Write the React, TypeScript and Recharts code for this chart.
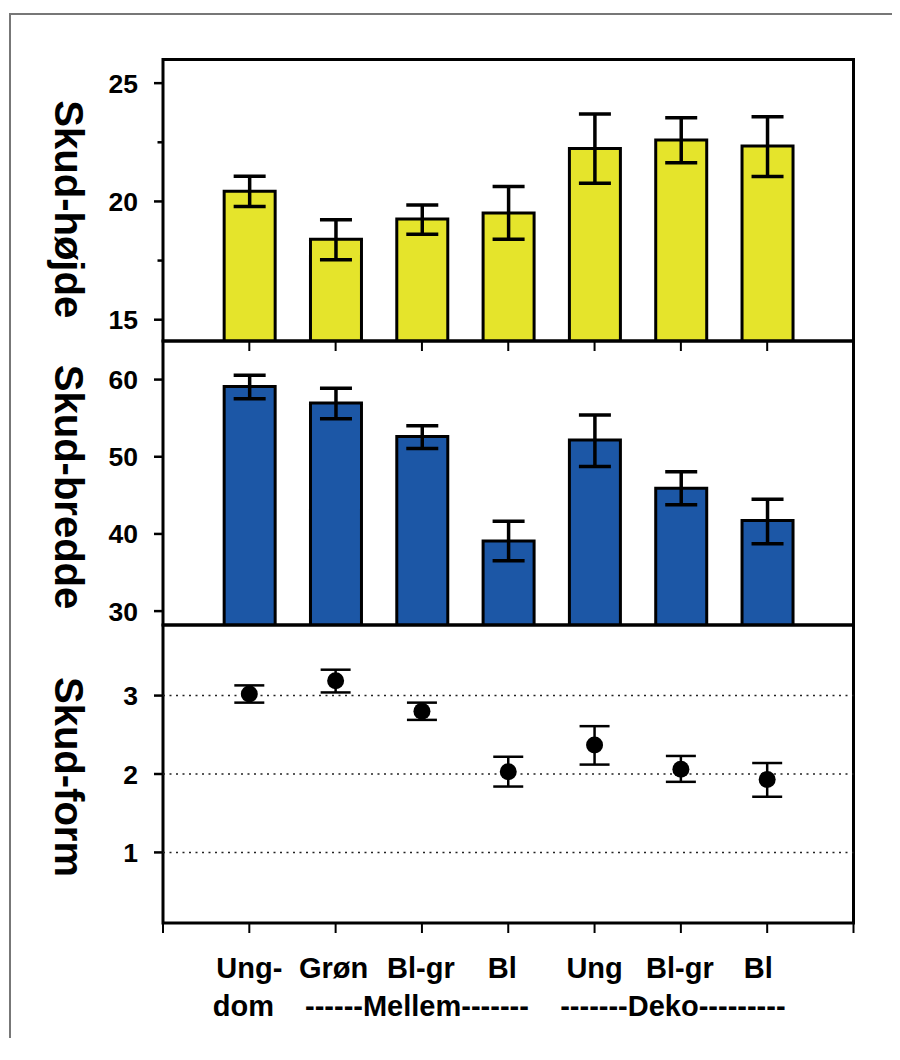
import React from 'react';
import {
  ComposedChart,
  Bar,
  Scatter,
  XAxis,
  YAxis,
  ErrorBar,
  ReferenceArea,
  ReferenceLine,
} from 'recharts';

const FONT = "'Liberation Sans', Arial, Helvetica, sans-serif";

// categories on the x axis (first line) and the second text line below them
const categories = ['Ung-', 'Grøn', 'Bl-gr', 'Bl', 'Ung', 'Bl-gr', 'Bl'];
const subLabels = ['dom', '', '------Mellem-------', '', '', '-------Deko---------', ''];
const positions = [1, 2, 3, 4, 5, 6, 7];
const xTicksAll = [0, 1, 2, 3, 4, 5, 6, 7, 8];

// Skud-højde (mean, lower and upper end of error bar)
const heightMean = [20.43, 18.4, 19.26, 19.51, 22.24, 22.6, 22.34];
const heightLow = [19.79, 17.54, 18.61, 18.4, 20.77, 21.64, 21.05];
const heightHigh = [21.06, 19.23, 19.85, 20.63, 23.7, 23.54, 23.58];

// Skud-bredde
const widthMean = [59.09, 56.97, 52.64, 39.09, 52.16, 45.93, 41.73];
const widthLow = [57.53, 54.94, 51.08, 36.54, 48.74, 43.77, 38.74];
const widthHigh = [60.56, 58.88, 54.03, 41.64, 55.41, 48.05, 44.5];

// Skud-form
const formMean = [3.02, 3.19, 2.8, 2.03, 2.37, 2.06, 1.93];
const formLow = [2.91, 3.04, 2.69, 1.84, 2.12, 1.9, 1.71];
const formHigh = [3.13, 3.33, 2.91, 2.22, 2.61, 2.23, 2.14];

// y ticks
const heightTicks = [15, 17.5, 20, 22.5, 25];
const heightLabelled = [15, 20, 25];
const widthTicks = [30, 40, 50, 60];
const formTicks = [1, 2, 3];

const heightDomain = [14.1, 26];
const widthDomain = [28.2, 65];
const formDomain = [0.1, 3.9];

// small horizontal nudges of the category texts (px), like the original's spacing
const line1Shift = [0, -2, -1, -6, 0, -1, -9];
const line2Shift = [-6, 0, -5, 0, 0, -8, 0];

const makeRows = (mean: number[], low: number[], high: number[]) =>
  positions.map((pos, i) => ({
    pos,
    mean: mean[i],
    err: [mean[i] - low[i], high[i] - mean[i]],
  }));

const heightRows = makeRows(heightMean, heightLow, heightHigh);
const widthRows = makeRows(widthMean, widthLow, widthHigh);
const formRows = makeRows(formMean, formLow, formHigh);

const Y_TICK_SIZE = 9;
const Y_TICK_MARGIN = 16;
const CHART_W = 884;
const Y_AXIS_W = 155;
const MARGIN_RIGHT = 38.5;

const makeYTick = (labelled: number[]) => (props: any) => {
  const { x, y, payload } = props;
  const axisX = x + Y_TICK_SIZE + Y_TICK_MARGIN;
  const major = labelled.includes(payload.value);
  return (
    <g>
      <line
        x1={axisX - (major ? Y_TICK_SIZE : 5.5)}
        x2={axisX}
        y1={y}
        y2={y}
        stroke="#000"
        strokeWidth={2.5}
      />
      {major && (
        <text
          x={x}
          y={y}
          dy="0.36em"
          textAnchor="end"
          fontFamily={FONT}
          fontWeight="bold"
          fontSize={26.5}
          fill="#000"
        >
          {payload.value}
        </text>
      )}
    </g>
  );
};

const CategoryTick = (props: any) => {
  const { x, y, payload } = props;
  const i = payload.value - 1;
  if (i < 0 || i >= categories.length) return <g />;
  const style = { fontFamily: FONT, fontWeight: 'bold' as const, fontSize: 29, fill: '#000' };
  return (
    <g>
      <text x={x + line1Shift[i]} y={y + 43} textAnchor="middle" {...style}>
        {categories[i]}
      </text>
      {subLabels[i] && (
        <text x={x + line2Shift[i]} y={y + 81} textAnchor="middle" {...style}>
          {subLabels[i]}
        </text>
      )}
    </g>
  );
};

const yLabel = (value: string, dy = 0) => ({
  value,
  angle: 90,
  position: 'center' as const,
  dx: -16.5,
  dy,
  fill: '#000',
  fontSize: 40,
  fontWeight: 'bold',
  fontFamily: FONT,
});

const frame = (domain: number[]) => (
  <ReferenceArea
    x1={0}
    x2={8}
    y1={domain[0]}
    y2={domain[1]}
    fill="none"
    stroke="#000"
    strokeWidth={3}
    ifOverflow="visible"
  />
);

export default function App() {
  return (
    <div style={{ position: 'relative', width: CHART_W, height: 1030 }}>
      <div
        style={{
          position: 'absolute',
          left: 1,
          top: 5,
          width: 890,
          height: 1045,
          borderTop: '2px solid #777',
          borderLeft: '2px solid #777',
          boxSizing: 'border-box',
        }}
      />

      {/* Skud-højde */}
      <div style={{ position: 'absolute', left: 0, top: 0 }}>
        <ComposedChart
          width={CHART_W}
          height={345}
          data={heightRows}
          margin={{ top: 51.5, right: MARGIN_RIGHT, bottom: 0, left: 0 }}
        >
          <XAxis
            type="number"
            dataKey="pos"
            domain={[0, 8]}
            ticks={positions}
            interval={0}
            height={12}
            axisLine={false}
            tickSize={10}
            tickLine={{ stroke: '#000', strokeWidth: 2 }}
            tickFormatter={() => ''}
          />
          <YAxis
            type="number"
            domain={heightDomain}
            allowDataOverflow
            ticks={heightTicks}
            interval={0}
            width={Y_AXIS_W}
            axisLine={false}
            tickLine={false}
            tickSize={Y_TICK_SIZE}
            tickMargin={Y_TICK_MARGIN}
            tick={makeYTick(heightLabelled)}
            label={yLabel('Skud-højde', 9)}
          />
          {frame(heightDomain)}
          <Bar
            dataKey="mean"
            fill="#e5e42b"
            stroke="#000"
            strokeWidth={3}
            barSize={51}
            isAnimationActive={false}
          >
            <ErrorBar dataKey="err" direction="y" width={16} stroke="#000" strokeWidth={3.5} />
          </Bar>
        </ComposedChart>
      </div>

      {/* Skud-bredde */}
      <div style={{ position: 'absolute', left: 0, top: 323 }}>
        <ComposedChart
          width={CHART_W}
          height={304}
          data={widthRows}
          margin={{ top: 10, right: MARGIN_RIGHT, bottom: 10, left: 0 }}
        >
          <XAxis type="number" dataKey="pos" domain={[0, 8]} hide />
          <YAxis
            type="number"
            domain={widthDomain}
            allowDataOverflow
            ticks={widthTicks}
            interval={0}
            width={Y_AXIS_W}
            axisLine={false}
            tickLine={false}
            tickSize={Y_TICK_SIZE}
            tickMargin={Y_TICK_MARGIN}
            tick={makeYTick(widthTicks)}
            label={yLabel('Skud-bredde', 4)}
          />
          {frame(widthDomain)}
          <Bar
            dataKey="mean"
            fill="#1c57a6"
            stroke="#000"
            strokeWidth={3}
            barSize={51}
            isAnimationActive={false}
          >
            <ErrorBar dataKey="err" direction="y" width={16} stroke="#000" strokeWidth={3.5} />
          </Bar>
        </ComposedChart>
      </div>

      {/* Skud-form */}
      <div style={{ position: 'absolute', left: 0, top: 607 }}>
        <ComposedChart
          width={CHART_W}
          height={418}
          data={formRows}
          margin={{ top: 10, right: MARGIN_RIGHT, bottom: 0, left: 0 }}
        >
          <XAxis
            type="number"
            dataKey="pos"
            domain={[0, 8]}
            ticks={xTicksAll}
            interval={0}
            height={110}
            axisLine={false}
            tickSize={10}
            tickMargin={2}
            tickLine={{ stroke: '#000', strokeWidth: 2 }}
            tick={CategoryTick}
          />
          <YAxis
            type="number"
            domain={formDomain}
            allowDataOverflow
            ticks={formTicks}
            interval={0}
            width={Y_AXIS_W}
            axisLine={false}
            tickLine={false}
            tickSize={Y_TICK_SIZE}
            tickMargin={Y_TICK_MARGIN}
            tick={makeYTick(formTicks)}
            label={yLabel('Skud-form', 3)}
          />
          {formTicks.map((v) => (
            <ReferenceLine key={v} y={v} stroke="#222" strokeWidth={1.5} strokeDasharray="2 4.5" />
          ))}
          {frame(formDomain)}
          <Scatter
            dataKey="mean"
            fill="#000"
            isAnimationActive={false}
            shape={(p: any) => <circle cx={p.cx} cy={p.cy} r={8.5} fill="#000" />}
          >
            <ErrorBar dataKey="err" direction="y" width={15} stroke="#000" strokeWidth={2.5} />
          </Scatter>
        </ComposedChart>
      </div>
    </div>
  );
}
